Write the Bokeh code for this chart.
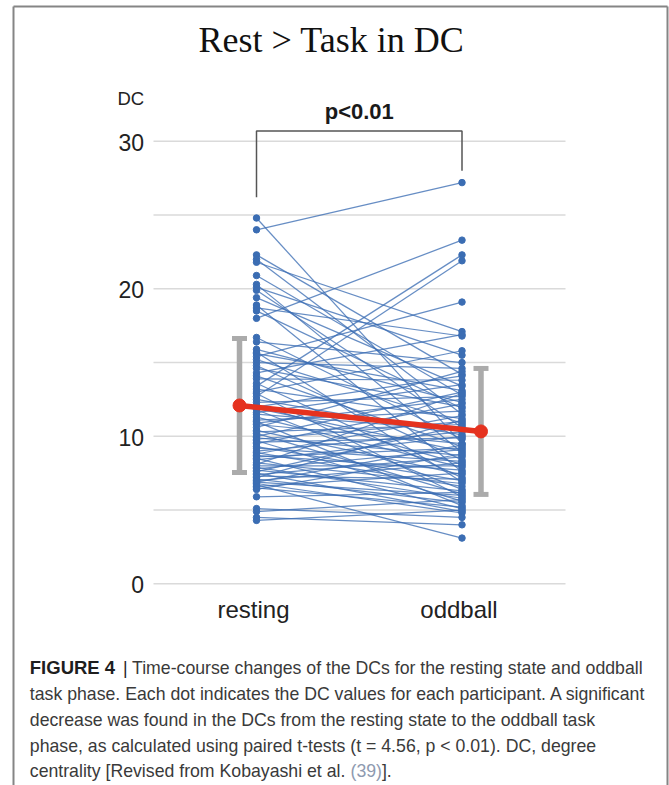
from bokeh.plotting import figure
from bokeh.models import Range1d
from bokeh.core.properties import value
from bokeh.embed import file_html
from bokeh.resources import INLINE

# ---------------- data ----------------
title_text = "Rest > Task in DC"
y_label = "DC"
categories = ["resting", "oddball"]
y_ticks = [0, 10, 20, 30]
y_tick_labels = ["0", "10", "20", "30"]
minor_grid = [5, 15, 25]
significance = "p<0.01"

resting = [24.8, 24.0, 22.3, 22.0, 21.8, 20.9, 20.3, 20.1, 19.9, 19.4,
           18.9, 18.7, 18.5, 18.0, 16.7, 16.4, 15.9, 15.7, 15.6, 15.4,
           15.2, 15.0, 14.8, 14.6, 14.3, 14.1, 13.9, 13.6, 13.4, 13.2,
           13.0, 12.9, 12.7, 12.5, 12.3, 12.1, 12.0, 11.9, 11.8, 11.6,
           11.5, 11.3, 11.1, 11.0, 10.9, 10.8, 10.6, 10.4, 10.3, 10.2,
           10.0, 9.9, 9.8, 9.7, 9.6, 9.5, 9.3, 9.2, 9.0, 8.9,
           8.8, 8.7, 8.6, 8.5, 8.4, 8.2, 8.1, 8.0, 7.9, 7.8,
           7.7, 7.6, 7.5, 7.4, 7.3, 7.2, 7.1, 7.0, 6.9, 6.9,
           6.8, 6.7, 6.6, 6.5, 6.4, 5.9, 5.1, 4.9, 4.5, 4.3]
oddball = [9.5, 27.2, 14.2, 11.5, 17.1, 12.8, 8.9, 15.5, 10.6, 13.4,
           7.6, 16.8, 11.9, 23.3, 9.8, 15.0, 12.3, 6.9, 13.1, 19.1,
           10.9, 14.6, 8.4, 12.0, 16.9, 9.3, 13.8, 7.2, 22.3, 11.2,
           15.8, 5.9, 21.9, 10.1, 12.7, 8.1, 14.1, 9.0, 6.4, 13.5,
           10.4, 7.9, 11.7, 5.3, 12.5, 9.5, 14.4, 7.4, 10.8, 6.1,
           13.0, 8.7, 11.0, 5.6, 9.9, 12.2, 7.0, 8.3, 10.3, 6.6,
           11.4, 7.7, 9.2, 5.1, 10.0, 6.8, 12.9, 8.0, 5.8, 9.1,
           6.3, 10.7, 4.9, 8.6, 7.1, 11.1, 5.5, 8.2, 6.0, 9.4,
           4.8, 3.1, 7.5, 5.2, 8.8, 6.2, 4.5, 5.7, 4.0, 5.0]
group_mean = [12.09, 10.33]
group_sd = [4.54, 4.27]

caption_bold = "FIGURE 4"
caption_bar = "|"
caption_line1 = "Time-course changes of the DCs for the resting state and oddball"
caption_lines = [
    "task phase. Each dot indicates the DC values for each participant. A significant",
    "decrease was found in the DCs from the resting state to the oddball task",
    "phase, as calculated using paired t-tests (t = 4.56, p < 0.01). DC, degree",
]
caption_last = "centrality [Revised from Kobayashi et al. "
caption_ref = "(39)"
caption_end = "]."

# ---------------- layout (page pixels) ----------------
W, H = 669, 785
X0_PX, DX_PX = 256.0, 205.5      # page x of category 0, px per category step
Y0_PX, DY_PX = 583.3, 14.75      # page y of value 0, px per unit


def X(px):
    return (px - X0_PX) / DX_PX


def Y(py):
    return (Y0_PX - py) / DY_PX


BLUE = "#3b6db3"
RED = "#e5321f"
GREY = "#ababab"
SANS = value("Liberation Sans")

p = figure(width=W, height=H,
           x_range=Range1d(X(0), X(W)),
           y_range=Range1d(Y(H), Y(0)),
           output_backend="svg", toolbar_location=None,
           x_axis_type=None, y_axis_type=None, min_border=0,
           outline_line_color=None, background_fill_color="white",
           border_fill_color="white")

# frame of the figure panel
p.segment(x0=[X(13), X(13), X(667)], y0=[Y(6), Y(6), Y(6)],
          x1=[X(13), X(667), X(667)], y1=[Y(H), Y(6), Y(H)],
          line_color="#858585", line_width=2)

# grid lines
grid_vals = sorted(y_ticks + minor_grid)
p.segment(x0=[X(153)] * len(grid_vals), y0=grid_vals,
          x1=[X(565)] * len(grid_vals), y1=grid_vals,
          line_color="#dadada", line_width=1.5)

# y tick labels
p.text(x=[X(143.5)] * len(y_ticks), y=[t - 0.7 / DY_PX for t in y_ticks],
       text=y_tick_labels, text_align="right", text_baseline="alphabetic",
       text_font=SANS, text_font_size="23px", text_color="#222222")
p.text(x=[X(117)], y=[Y(98)], text=[y_label], text_align="left",
       text_baseline="alphabetic", text_font=SANS, text_font_size="18.5px",
       text_color="#222222")

# category labels
cat_x = list(range(len(categories)))
p.text(x=cat_x, y=[Y(608.5)] * len(categories), text=categories,
       text_align="center", text_baseline="alphabetic", x_offset=-3,
       text_font=SANS, text_font_size="24px", text_color="#222222")

# paired lines and dots
n = len(resting)
p.multi_line(xs=[[cat_x[0], cat_x[1]] for _ in range(n)],
             ys=[[r, o] for r, o in zip(resting, oddball)],
             line_color=BLUE, line_alpha=0.78, line_width=1.25)
p.scatter(x=[cat_x[0]] * n, y=resting, size=6.5, fill_color=BLUE,
          line_color=BLUE)
p.scatter(x=[cat_x[1]] * n, y=oddball, size=6.5, fill_color=BLUE,
          line_color=BLUE)

# mean +- SD
bar_off_px = [-17, 19]
xe = [c + off / DX_PX for c, off in zip(cat_x, bar_off_px)]
lo = [m - s for m, s in zip(group_mean, group_sd)]
hi = [m + s for m, s in zip(group_mean, group_sd)]
capw = 7.5 / DX_PX
p.segment(x0=xe, y0=lo, x1=xe, y1=hi, line_color=GREY, line_width=5.5)
p.segment(x0=[x - capw for x in xe] * 2, y0=lo + hi,
          x1=[x + capw for x in xe] * 2, y1=lo + hi,
          line_color=GREY, line_width=5)
p.line(x=xe, y=group_mean, line_color=RED, line_width=5.5)
p.scatter(x=xe, y=group_mean, size=13, fill_color=RED, line_color=RED)

# significance bracket
top = max(oddball) + 3.5
left_end = max(resting) + 1.4
right_end = max(oddball) + 0.8
p.line(x=[cat_x[0], cat_x[0], cat_x[1], cat_x[1]],
       y=[left_end, top, top, right_end], line_color="#555555", line_width=1.5)
p.text(x=[(cat_x[0] + cat_x[1]) / 2], y=[top + 19.4 / DY_PX],
       text=[significance], text_align="center", text_baseline="alphabetic",
       text_font=SANS, text_font_size="22px", text_font_style="bold",
       text_color="#1a1a1a")

# title
p.text(x=[X(331)], y=[Y(39.5)], text=[title_text], text_align="center",
       text_baseline="alphabetic", text_font=value("Liberation Serif"),
       text_font_size="36px", text_color="#111111")

# caption
CAP_COLOR = "#3a3a3a"
CAP_SIZE = "17.7px"
CAP_EM = 17.7
p.text(x=[X(29.3)], y=[Y(667.3)], text=[caption_bold], text_align="left",
       text_baseline="alphabetic", text_font=SANS, text_font_size="18.5px",
       text_font_style="bold", text_color="#1e1e1e")
p.text(x=[X(122.5)], y=[Y(667.3)], text=[caption_bar], text_align="left",
       text_baseline="alphabetic", text_font=SANS, text_font_size=CAP_SIZE,
       text_color="#1e1e1e")
p.text(x=[X(131.5)], y=[Y(667.3)], text=[caption_line1], text_align="left",
       text_baseline="alphabetic", text_font=SANS, text_font_size=CAP_SIZE,
       text_color=CAP_COLOR)
p.text(x=[X(29.3)] * len(caption_lines), y=[Y(693.2), Y(719.2), Y(745.2)],
       text=caption_lines, text_align="left", text_baseline="alphabetic",
       text_font=SANS, text_font_size=CAP_SIZE, text_color=CAP_COLOR)
prefix_px = 18.118 * CAP_EM
ref_px = 1.778 * CAP_EM
p.text(x=[X(29.3)], y=[Y(770.8)], text=[caption_last], text_align="left",
       text_baseline="alphabetic", text_font=SANS, text_font_size=CAP_SIZE,
       text_color=CAP_COLOR)
p.text(x=[X(29.3 + prefix_px)], y=[Y(770.8)], text=[caption_ref],
       text_align="left", text_baseline="alphabetic", text_font=SANS,
       text_font_size=CAP_SIZE, text_color="#8e9ab0")
p.text(x=[X(29.3 + prefix_px + ref_px)], y=[Y(770.8)], text=[caption_end],
       text_align="left", text_baseline="alphabetic", text_font=SANS,
       text_font_size=CAP_SIZE, text_color=CAP_COLOR)

open("out.html", "w").write(file_html(p, INLINE))
